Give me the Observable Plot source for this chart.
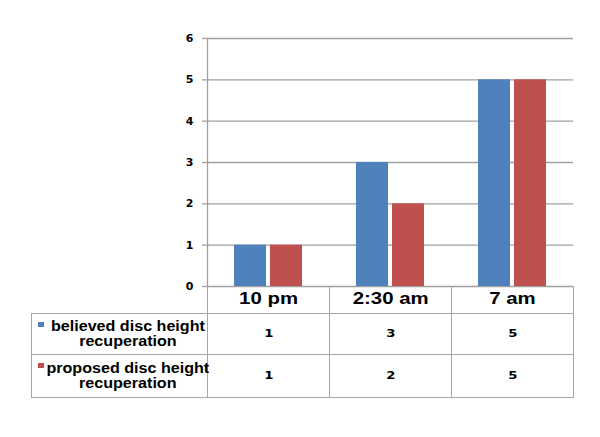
<!DOCTYPE html>
<html>
<head>
<meta charset="utf-8">
<script src="https://cdn.jsdelivr.net/npm/d3@7"></script>
<script src="https://cdn.jsdelivr.net/npm/@observablehq/plot@0.6"></script>
<style>
  html, body { margin: 0; padding: 0; background: #fff; }
  #wrap { position: relative; width: 600px; height: 437px; overflow: hidden; background: #fff; }
  #tbl { position: absolute; border-collapse: collapse; table-layout: fixed; font-family: "Liberation Sans", Arial, sans-serif; color: #000; }
  #tbl td { border: 1.5px solid #a6a6a6; padding: 0; text-align: center; vertical-align: middle; }
  #tbl td.blank { border: none; }
  #tbl td.head { font-size: 17px; font-weight: bold; border-top: none; }
  #tbl td.head span { display: inline-block; transform: scaleX(1.2); }
  #tbl td.lab { font-size: 14px; font-weight: bold; line-height: 15px; position: relative; white-space: nowrap; padding-left: 16px; }
  #tbl td.lab span { display: inline-block; transform: scaleX(1.15); transform-origin: 50% 50%; }
  #tbl td.val { font-family: "DejaVu Sans", Verdana, sans-serif; font-size: 11px; font-weight: bold; }
  #tbl td.val span { display: inline-block; transform: scaleX(1.2); }
  .key { position: absolute; left: 6px; top: 8px; width: 6px; height: 5px; }
</style>
</head>
<body>
<div id="wrap"></div>
<script>
const categories = ["10 pm", "2:30 am", "7 am"];
const seriesNames = ["believed disc height recuperation", "proposed disc height recuperation"];
const seriesLines = [["believed disc height", "recuperation"], ["proposed disc height", "recuperation"]];
const believed = [1, 3, 5];
const proposed = [1, 2, 5];
const colors = ["#4F81BD", "#C0504D"];
const yTicks = [0, 1, 2, 3, 4, 5, 6];

const values = [believed, proposed];
const data = categories.flatMap((c, i) => seriesNames.map((s, k) => ({cat: c, series: s, value: values[k][i]})));

const chart = Plot.plot({
  width: 600,
  height: 437,
  marginLeft: 206,
  marginRight: 27,
  marginTop: 38,
  marginBottom: 151,
  style: {background: "transparent"},
  fx: {domain: categories, padding: 0, axis: null},
  x: {domain: seriesNames, paddingInner: 0.108, paddingOuter: 0.707, axis: null},
  y: {domain: [0, 6], axis: null},
  color: {domain: seriesNames, range: colors},
  marks: [
    Plot.gridY(yTicks.slice(1), {stroke: "#a0a0a0", strokeOpacity: 1, strokeWidth: 1.3}),
    Plot.ruleY([0], {stroke: "#a0a0a0", strokeWidth: 1.3}),
    Plot.barY(data, {fx: "cat", x: "series", y: "value", fill: "series"}),
    Plot.frame({anchor: "left", facetAnchor: "left", stroke: "#a0a0a0", strokeWidth: 1.3}),
    Plot.axisY(yTicks, {tickSize: 5, tickPadding: 9, label: null, stroke: "#a0a0a0", strokeWidth: 1.3, fill: "#000",
      fontSize: 11, fontWeight: "bold", fontFamily: "DejaVu Sans, Verdana, sans-serif"})
  ]
});
const wrap = document.getElementById("wrap");
wrap.appendChild(chart);

// data table below the plot, columns aligned with the fx scale
const fx = chart.scale("fx");
const y = chart.scale("y");
const colW = fx.bandwidth;
const left0 = 31;
const firstW = fx.apply(categories[0]) - left0;
const top0 = y.apply(0);

const tbl = document.createElement("table");
tbl.id = "tbl";
tbl.style.left = left0 + "px";
tbl.style.top = top0 + "px";
tbl.style.width = (firstW + colW * categories.length) + "px";
const cg = document.createElement("colgroup");
[firstW, ...categories.map(() => colW)].forEach(w => {
  const c = document.createElement("col"); c.style.width = w + "px"; cg.appendChild(c);
});
tbl.appendChild(cg);
const hr = tbl.insertRow();
hr.style.height = "27px";
const blank = hr.insertCell(); blank.className = "blank";
categories.forEach(c => {
  const td = hr.insertCell(); td.className = "head";
  const sp = document.createElement("span"); sp.textContent = c; td.appendChild(sp);
});
const rowH = [41, 43];
seriesNames.forEach((s, k) => {
  const tr = tbl.insertRow();
  tr.style.height = rowH[k] + "px";
  const lab = tr.insertCell(); lab.className = "lab";
  const sp = document.createElement("span");
  sp.innerHTML = seriesLines[k].join("<br>");
  lab.appendChild(sp);
  const key = document.createElement("div"); key.className = "key"; key.style.background = colors[k];
  lab.appendChild(key);
  values[k].forEach(v => {
    const td = tr.insertCell(); td.className = "val";
    const vs = document.createElement("span"); vs.textContent = v; td.appendChild(vs);
  });
});
wrap.appendChild(tbl);
</script>
</body>
</html>
